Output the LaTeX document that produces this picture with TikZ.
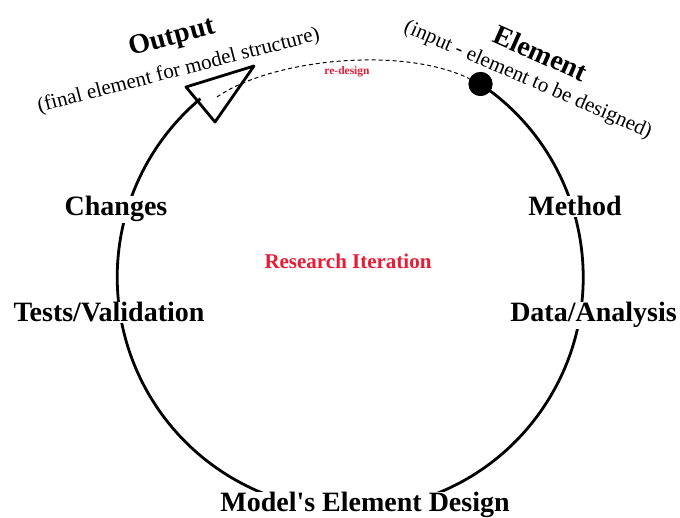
\documentclass[tikz,border=0pt]{standalone}
\usepackage{fontspec}
\setmainfont{Liberation Serif}
\definecolor{ired}{RGB}{232,28,52}
\begin{document}
\begin{tikzpicture}[x=1pt,y=1pt,
  cyc/.style={line width=2.8pt},
  lbl/.style={font=\bfseries\fontsize{28}{30}\selectfont, fill=white, inner sep=1pt, anchor=base},
  big/.style={font=\bfseries\fontsize{28}{30}\selectfont, anchor=base},
  sub/.style={font=\fontsize{21}{24}\selectfont, anchor=base},
  redtxt/.style={text=ired, font=\bfseries\fontsize{#1}{#1}\selectfont}]
\fill[white] (0,0) rectangle (680,518);
\useasboundingbox (0,0) rectangle (680,518);
% cycle
\coordinate (c) at (350,240.5);
\node[circle, fill=black, minimum size=24pt, inner sep=0pt] (dot) at (480.5,434) {};
\coordinate (tip) at (254,452);
\coordinate (ca) at (186,431);
\coordinate (cb) at (215,396);
\coordinate (ds) at (217,421);
\draw[cyc] (dot.center) arc[start angle=56, end angle=-230, radius=233pt] coordinate (ae);
\draw[cyc, line join=round] (tip) -- (ca) -- (cb) -- cycle;
\draw[line width=1pt, dash pattern=on 4pt off 3pt] (ds) .. controls (270,458) and (400,473) .. (dot);
\node[circle, fill=black, minimum size=24pt, inner sep=0pt] at (dot) {};
% labels
\node[big, rotate=15] (out) at (174,473.3) {Output};
\node[sub, rotate=14.4] (outs) at (180,442) {(final element for model structure)};
\node[big, rotate=-24] (el) at (536.7,456.3) {Element};
\node[sub, rotate=-23.4] (els) at (525.8,433.2) {(input - element to be designed)};
\node[redtxt=11.5] (rd) at (347,446) {re-design};
\node[redtxt=21] (ri) at (348,257) {Research Iteration};
\node[lbl] (ch) at (116,302) {Changes};
\node[lbl] (me) at (575,302) {Method};
\node[lbl] (tv) at (109,196) {Tests/Validation};
\node[lbl] (da) at (593.5,196) {Data/Analysis};
\node[lbl] (md) at (365,6) {Model\textquotesingle s Element Design};
\end{tikzpicture}
\end{document}
